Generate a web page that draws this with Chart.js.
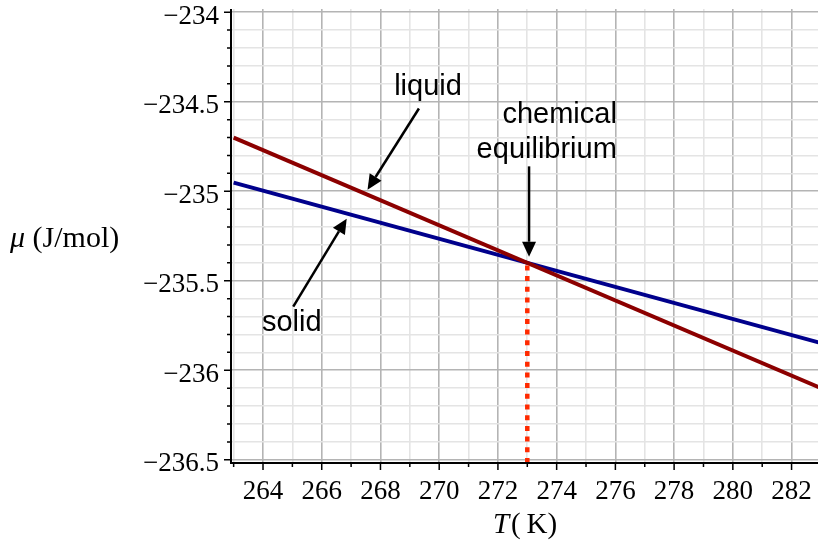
<!DOCTYPE html>
<html>
<head>
<meta charset="utf-8">
<script src="https://cdn.jsdelivr.net/npm/chart.js@4/dist/chart.umd.min.js"></script>
<style>
html,body{margin:0;padding:0;background:#fff;}
#wrap{width:818px;height:546px;position:relative;}
</style>
</head>
<body>
<div id="wrap"><canvas id="c" width="818" height="546"></canvas></div>
<script>
// ---- data ----
const temperatures = [263, 283];            // K, line end points
const liquidMu = [-234.70, -236.10];        // J/mol
const solidMu = [-234.952, -235.848];       // J/mol
const equilibriumT = [273, 273];
const equilibriumMu = [-236.518, -235.40];

const xMajorTicks = [264, 266, 268, 270, 272, 274, 276, 278, 280, 282];
const xTickLabels = ['264', '266', '268', '270', '272', '274', '276', '278', '280', '282'];
const xMinorTicks = [263, 265, 267, 269, 271, 273, 275, 277, 279, 281];
const yMajorTicks = [-236.5, -236, -235.5, -235, -234.5, -234];
const yTickLabels = ['\u2212236.5', '\u2212236', '\u2212235.5', '\u2212235', '\u2212234.5', '\u2212234'];
const yMinorTicks = [-236.4,-236.3,-236.2,-236.1,-235.9,-235.8,-235.7,-235.6,-235.4,-235.3,-235.2,-235.1,
                     -234.9,-234.8,-234.7,-234.6,-234.4,-234.3,-234.2,-234.1];

// annotations (text and arrows) in data coordinates
const annotationTexts = [
  {text: 'liquid', x: 269.62, y: -234.465, align: 'center'},
  {text: 'chemical', x: 276.05, y: -234.62, align: 'right'},
  {text: 'equilibrium', x: 276.05, y: -234.815, align: 'right'},
  {text: 'solid', x: 264.98, y: -235.78, align: 'center'}
];
const annotationArrows = [
  {from: [269.31, -234.538], to: [267.56, -234.991]},
  {from: [273.06, -234.861], to: [273.06, -235.366]},
  {from: [265.03, -235.645], to: [266.85, -235.153]}
];

const xMin = 262.91, xMax = 282.9, yMin = -236.518, yMax = -233.982;

const isMajorX = v => xMajorTicks.some(t => Math.abs(t - v) < 1e-6);
const isMajorY = v => yMajorTicks.some(t => Math.abs(t - v) < 1e-6);

const axesPlugin = {
  id: 'axesPlugin',
  afterDatasetsDraw(chart) {
    const {ctx, chartArea: a, scales: {x, y}} = chart;
    ctx.save();
    // annotations
    ctx.fillStyle = '#000';
    ctx.font = '29px "Liberation Sans", Arial, sans-serif';
    ctx.textBaseline = 'alphabetic';
    annotationTexts.forEach(t => {
      ctx.textAlign = t.align;
      ctx.fillText(t.text, x.getPixelForValue(t.x), y.getPixelForValue(t.y));
    });
    ctx.strokeStyle = '#000';
    ctx.lineWidth = 2.5;
    annotationArrows.forEach(ar => {
      const x1 = x.getPixelForValue(ar.from[0]), y1 = y.getPixelForValue(ar.from[1]);
      const x2 = x.getPixelForValue(ar.to[0]), y2 = y.getPixelForValue(ar.to[1]);
      const ang = Math.atan2(y2 - y1, x2 - x1);
      const hl = 15, hw = 7;
      const bx = x2 - hl * Math.cos(ang), by = y2 - hl * Math.sin(ang);
      ctx.beginPath();
      ctx.moveTo(x1, y1);
      ctx.lineTo(bx, by);
      ctx.stroke();
      ctx.beginPath();
      ctx.moveTo(x2, y2);
      ctx.lineTo(bx + hw * Math.sin(ang), by - hw * Math.cos(ang));
      ctx.lineTo(bx - hw * Math.sin(ang), by + hw * Math.cos(ang));
      ctx.closePath();
      ctx.fill();
    });
    // axis lines
    ctx.strokeStyle = '#000';
    ctx.lineWidth = 2;
    ctx.beginPath();
    ctx.moveTo(a.left, a.top);
    ctx.lineTo(a.left, a.bottom + 1);
    ctx.moveTo(a.left - 1, a.bottom);
    ctx.lineTo(a.right, a.bottom);
    ctx.stroke();
    ctx.lineWidth = 1.5;
    ctx.beginPath();
    xMajorTicks.concat(xMinorTicks).forEach(v => {
      const px = x.getPixelForValue(v);
      ctx.moveTo(px, a.bottom);
      ctx.lineTo(px, a.bottom + (isMajorX(v) ? 7 : 4));
    });
    yMajorTicks.concat(yMinorTicks).forEach(v => {
      const py = y.getPixelForValue(v);
      ctx.moveTo(a.left, py);
      ctx.lineTo(a.left - (isMajorY(v) ? 7 : 4), py);
    });
    ctx.stroke();
    // tick labels
    ctx.font = '27px "Liberation Serif", serif';
    ctx.textBaseline = 'alphabetic';
    ctx.textAlign = 'center';
    xMajorTicks.forEach((v, i) => ctx.fillText(xTickLabels[i], x.getPixelForValue(v), a.bottom + 36));
    ctx.textAlign = 'right';
    yMajorTicks.forEach((v, i) => ctx.fillText(yTickLabels[i], a.left - 12, y.getPixelForValue(v) + 11.5));
    // axis titles
    ctx.textAlign = 'left';
    ctx.font = 'italic 30px "Liberation Serif", serif';
    let px = 10;
    ctx.fillText('\u03bc', px, 247);
    px += ctx.measureText('\u03bc').width;
    ctx.font = '30px "Liberation Serif", serif';
    ctx.fillText(' (J/mol)', px, 247);
    // x title
    ctx.font = 'italic 29px "Liberation Serif", serif';
    const tW = ctx.measureText('T').width;
    ctx.font = '29px "Liberation Serif", serif';
    const rest = '(\u2009K)';
    const rW = ctx.measureText(rest).width;
    let sx = 525 - (tW + rW + 2) / 2;
    ctx.font = 'italic 29px "Liberation Serif", serif';
    ctx.fillText('T', sx, 533);
    ctx.font = '29px "Liberation Serif", serif';
    ctx.fillText(rest, sx + tW + 2, 533);
    ctx.restore();
  }
};

new Chart(document.getElementById('c'), {
  type: 'scatter',
  data: {
    datasets: [
      {
        label: 'dotted',
        data: equilibriumT.map((t, i) => ({x: t, y: equilibriumMu[i]})),
        showLine: true, borderColor: '#ff2a00', borderWidth: 4.5,
        borderDash: [5, 5.7], borderCapStyle: 'butt', pointRadius: 0, order: 0
      },
      {
        label: 'solid',
        data: temperatures.map((t, i) => ({x: t, y: solidMu[i]})),
        showLine: true, borderColor: '#00008c', borderWidth: 4, pointRadius: 0, order: 2
      },
      {
        label: 'liquid',
        data: temperatures.map((t, i) => ({x: t, y: liquidMu[i]})),
        showLine: true, borderColor: '#8c0000', borderWidth: 4, pointRadius: 0, order: 1
      }
    ]
  },
  options: {
    responsive: false,
    animation: false,
    layout: {padding: {left: 0, right: 0, top: 9, bottom: 0}},
    plugins: {legend: {display: false}, tooltip: {enabled: false}},
    scales: {
      x: {
        type: 'linear', min: xMin, max: xMax,
        afterBuildTicks: s => { s.ticks = xMajorTicks.concat(xMinorTicks).sort((a, b) => a - b).map(v => ({value: v})); },
        afterFit: s => { s.height = 83; },
        border: {display: false},
        grid: {
          drawTicks: false, lineWidth: 1.6,
          color: c => isMajorX(c.tick.value) ? 'rgb(180,180,180)' : 'rgb(228,228,228)'
        },
        ticks: {display: false}
      },
      y: {
        type: 'linear', min: yMin, max: yMax,
        afterBuildTicks: s => { s.ticks = yMajorTicks.concat(yMinorTicks).sort((a, b) => a - b).map(v => ({value: v})); },
        afterFit: s => { s.width = 231; },
        border: {display: false},
        grid: {
          drawTicks: false, lineWidth: 1.6,
          color: c => isMajorY(c.tick.value) ? 'rgb(180,180,180)' : 'rgb(228,228,228)'
        },
        ticks: {display: false}
      }
    }
  },
  plugins: [axesPlugin]
});
</script>
</body>
</html>
